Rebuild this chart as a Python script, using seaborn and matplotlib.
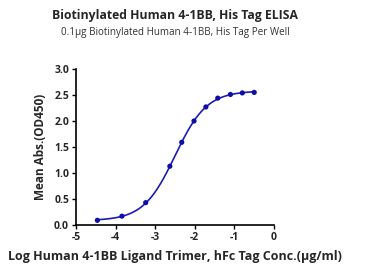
import numpy as np
import pandas as pd
import matplotlib
matplotlib.use("Agg")
import matplotlib.pyplot as plt
import seaborn as sns

log_conc = [-4.46, -3.84, -3.24, -2.63, -2.33, -2.02, -1.72, -1.42, -1.10, -0.80, -0.50]
od450 = [0.09, 0.17, 0.43, 1.13, 1.59, 2.00, 2.27, 2.44, 2.51, 2.54, 2.55]
x_ticks = [-5, -4, -3, -2, -1, 0]
y_ticks = [0.0, 0.5, 1.0, 1.5, 2.0, 2.5, 3.0]

title = "Biotinylated Human 4-1BB, His Tag ELISA"
subtitle = "0.1\u03bcg Biotinylated Human 4-1BB, His Tag Per Well"
xlabel = "Log Human 4-1BB Ligand Trimer, hFc Tag Conc.(\u03bcg/ml)"
ylabel = "Mean Abs.(OD450)"

sns.set_style("ticks")
plt.rcParams['font.family'] = ['Open Sans', 'DejaVu Sans']

x = np.array(log_conc)
y = np.array(od450)

# 4PL fit: grid over logEC50 and hill, bottom/top by linear least squares
best = None
for ec in np.linspace(-3.5, -1.5, 201):
    for h in np.linspace(0.5, 2.0, 151):
        f = 1.0 / (1.0 + 10 ** ((ec - x) * h))
        A = np.column_stack([1 - f, f])
        coef, *_ = np.linalg.lstsq(A, y, rcond=None)
        r = np.sum((A @ coef - y) ** 2)
        if best is None or r < best[0]:
            best = (r, ec, h, coef)
_, ec, h, (bot, top) = best
xs = np.linspace(x.min(), x.max(), 300)
ys = bot + (top - bot) / (1.0 + 10 ** ((ec - xs) * h))

fig = plt.figure(figsize=(3.68, 2.72), dpi=100)
ax = fig.add_axes([76 / 368, 1 - 225 / 272, (274 - 76) / 368, (225 - 69) / 272])

color = "#1c1cb0"
sns.lineplot(x=xs, y=ys, ax=ax, color=color, linewidth=1.2)
sns.scatterplot(x=x, y=y, ax=ax, color="#0d0da8", s=14, edgecolor="none", zorder=3)

ax.set_xlim(-5, 0)
ax.set_ylim(0, 3.0)
ax.set_xticks(x_ticks)
ax.set_yticks(y_ticks)
ax.set_xticklabels([str(t) for t in x_ticks], fontsize=7.5, fontweight="bold")
ax.set_yticklabels([f"{t:.1f}" for t in y_ticks], fontsize=7.5, fontweight="bold")
ax.tick_params(axis="both", length=3, width=1, color="black", pad=2)
for s in ["left", "bottom"]:
    ax.spines[s].set_linewidth(1.2)
    ax.spines[s].set_color("black")
sns.despine(ax=ax)

ax.set_xlabel(xlabel, fontsize=9, fontweight="bold", labelpad=5)
ax.set_ylabel(ylabel, fontsize=8.5, fontweight="bold", labelpad=5)

fig.text(175 / 368, 1 - 16 / 272, title, ha="center", va="center", fontsize=8.8, fontweight="bold")
fig.text(175 / 368, 1 - 33 / 272, subtitle, ha="center", va="center", fontsize=7.1, color="#333333")

fig.savefig("out.png", dpi=100)
